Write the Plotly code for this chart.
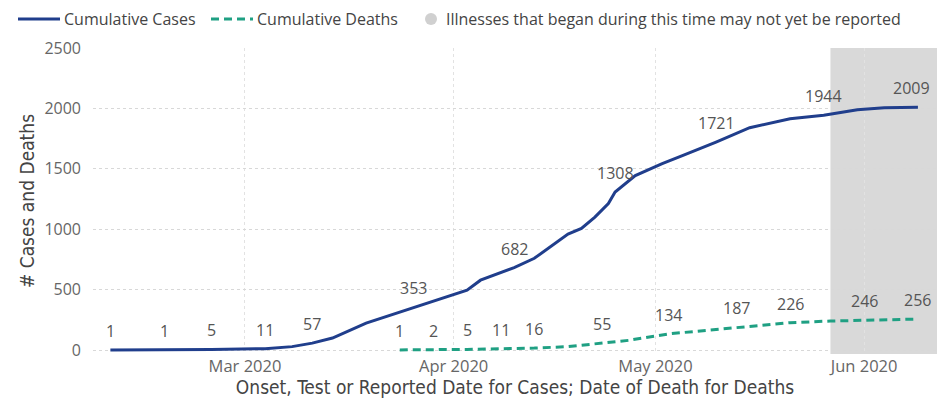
import plotly.graph_objects as go

# cumulative cases (onset / test / report date)
case_dates = ["2020-02-10", "2020-02-18", "2020-02-25", "2020-03-04", "2020-03-08",
              "2020-03-11", "2020-03-14", "2020-03-19", "2020-03-26", "2020-04-03",
              "2020-04-05", "2020-04-10", "2020-04-13", "2020-04-15", "2020-04-18",
              "2020-04-20", "2020-04-22", "2020-04-24", "2020-04-25", "2020-04-28",
              "2020-05-02", "2020-05-05", "2020-05-10", "2020-05-15", "2020-05-21",
              "2020-05-26", "2020-05-29", "2020-05-31", "2020-06-04", "2020-06-09"]
case_values = [1, 1, 5, 11, 28,
               57, 99, 223, 353, 495,
               578, 682, 759, 842, 960,
               1006, 1100, 1213, 1308, 1444,
               1543, 1609, 1721, 1840, 1915,
               1944, 1970, 1988, 2005, 2009]

# cumulative deaths (date of death)
death_dates = ["2020-03-24", "2020-03-29", "2020-04-03", "2020-04-08", "2020-04-13",
               "2020-04-18", "2020-04-23", "2020-04-27", "2020-05-03", "2020-05-06",
               "2020-05-13", "2020-05-21", "2020-05-27", "2020-06-01", "2020-06-09"]
death_values = [1, 2, 5, 11, 16,
                28, 55, 80, 134, 150,
                187, 226, 240, 246, 256]

# points that carry a data label
case_label_dates = ["2020-02-10", "2020-02-18", "2020-02-25", "2020-03-04", "2020-03-11",
                    "2020-03-26", "2020-04-10", "2020-04-25", "2020-05-10", "2020-05-26",
                    "2020-06-08"]
case_label_values = [1, 1, 5, 11, 57, 353, 682, 1308, 1721, 1944, 2009]
death_label_dates = ["2020-03-24", "2020-03-29", "2020-04-03", "2020-04-08", "2020-04-13",
                     "2020-04-23", "2020-05-03", "2020-05-13", "2020-05-21", "2020-06-01",
                     "2020-06-09"]
death_label_values = [1, 2, 5, 11, 16, 55, 134, 187, 226, 246, 256]

# period where illnesses may not yet be reported
lag_start = "2020-05-27"
x_range = ["2020-02-07 10:00", "2020-06-11 20:00"]

CASE_COLOR = "#203e8c"
DEATH_COLOR = "#1fa083"
TEXT = "#555555"
FONT = "Open Sans"
TITLE_FONT = "DejaVu Sans Condensed"

# page puts the figure 8px in from the window corner
OFF = 8
W, H = 945 - OFF, 405 - OFF
L, R, T, B = 93 - OFF, 8, 48 - OFF, 51
PW, PH = W - L - R, H - T - B


def px_x(p):
    # window pixel -> paper x
    return (p - OFF - L) / PW


def px_y(p):
    # window pixel -> paper y
    return (H - B - (p - OFF)) / PH


fig = go.Figure()
fig.add_trace(go.Scatter(x=case_dates, y=case_values, mode="lines",
                         name="Cumulative Cases",
                         line=dict(color=CASE_COLOR, width=3)))
fig.add_trace(go.Scatter(x=death_dates, y=death_values, mode="lines",
                         name="Cumulative Deaths",
                         line=dict(color=DEATH_COLOR, width=3, dash="8px,5px")))

fig.add_shape(type="rect", xref="x", yref="paper", x0=lag_start, x1=x_range[1],
              y0=0, y1=1, fillcolor="#d9d9d9", line_width=0, layer="below")

for d, v in zip(case_label_dates, case_label_values):
    fig.add_annotation(x=d, y=v, text=str(v), showarrow=False, yshift=19,
                       font=dict(family=FONT, size=16, color=TEXT))
for d, v in zip(death_label_dates, death_label_values):
    fig.add_annotation(x=d, y=v, text=str(v), showarrow=False, yshift=19,
                       font=dict(family=FONT, size=16, color=TEXT))

# legend drawn by hand so the symbol lengths match the original
legend_y = px_y(19)
fig.add_shape(type="line", xref="paper", yref="paper", x0=px_x(18), x1=px_x(60),
              y0=legend_y, y1=legend_y, line=dict(color=CASE_COLOR, width=3))
fig.add_shape(type="line", xref="paper", yref="paper", x0=px_x(211), x1=px_x(253),
              y0=legend_y, y1=legend_y, line=dict(color=DEATH_COLOR, width=3, dash="8px,5px"))
fig.add_shape(type="circle", xref="paper", yref="paper", x0=px_x(425), x1=px_x(437),
              y0=px_y(25), y1=px_y(13), fillcolor="#d0d0d0", line_width=0)
for xpos, label in [(63, "Cumulative Cases"), (256, "Cumulative Deaths"),
                    (445, "Illnesses that began during this time may not yet be reported")]:
    fig.add_annotation(xref="paper", yref="paper", x=px_x(xpos), y=legend_y, text=label,
                       showarrow=False, xanchor="left", yanchor="middle", borderpad=0,
                       font=dict(family=FONT, size=16, color="#444444"))

fig.update_layout(
    width=W, height=H,
    margin=dict(l=L, r=R, t=T, b=B, autoexpand=False),
    plot_bgcolor="white", paper_bgcolor="white",
    font=dict(family=FONT, color=TEXT),
    showlegend=False,
)
fig.update_xaxes(range=x_range, tickformat="%b %Y", dtick="M1",
                 tick0="2020-03-01", automargin=False,
                 showgrid=True, gridcolor="#e2e2e2", griddash="dot",
                 zeroline=False, showline=False, ticks="",
                 tickfont=dict(family=FONT, size=16.5, color="#666666"),
                 title=dict(text="Onset, Test or Reported Date for Cases; Date of Death for Deaths",
                            font=dict(family=TITLE_FONT, size=19, color="#444444"),
                            standoff=0))
fig.update_yaxes(range=[-33, 2500], tickvals=[0, 500, 1000, 1500, 2000, 2500],
                 automargin=False,
                 showgrid=True, gridcolor="#d8d8d8", griddash="dot",
                 zeroline=False, showline=False, ticks="", ticklabelstandoff=11,
                 tickfont=dict(family=FONT, size=16, color="#666666"),
                 title=dict(text="# Cases and Deaths",
                            font=dict(family=TITLE_FONT, size=19, color="#444444"),
                            standoff=4))

# left frame edge of the report visual
fig.add_shape(type="line", xref="paper", yref="paper",
              x0=px_x(4), x1=px_x(4), y0=px_y(405), y1=px_y(0),
              line=dict(color="#9cc0e0", width=2))

fig.write_html("out.html")
